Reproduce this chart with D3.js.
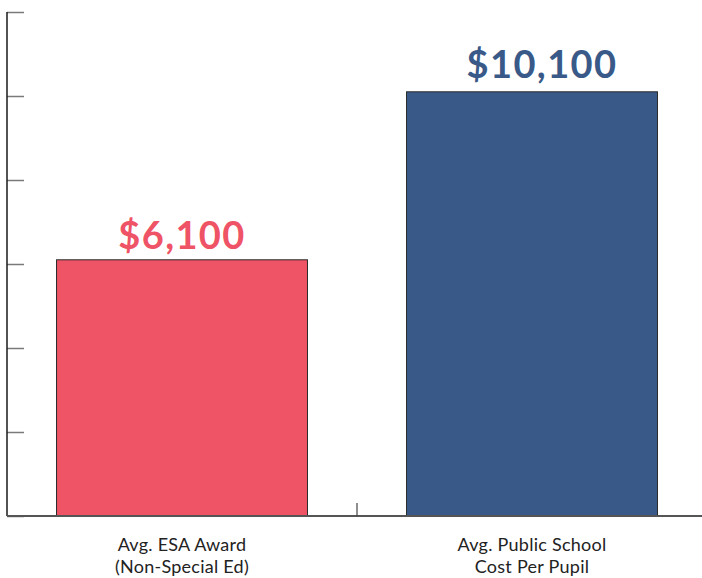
<!DOCTYPE html>
<html>
<head>
<meta charset="utf-8">
<script src="https://cdn.jsdelivr.net/npm/d3@7"></script>
<style>
  html, body { margin: 0; padding: 0; background: #fff; }
  svg { display: block; }
</style>
</head>
<body>
<div id="container"></div>
<script>
const width = 702;
const height = 578;

// chart data
const categories = ["Avg. ESA Award\n(Non-Special Ed)", "Avg. Public School\nCost Per Pupil"];
const values = [6100, 10100];
const valueLabels = ["$6,100", "$10,100"];
const barColors = ["#EF5366", "#395A88"];
const yTicks = [0, 2000, 4000, 6000, 8000, 10000, 12000];

const margin = { top: 12, right: -5, bottom: 62, left: 7 };

const svg = d3.select("#container")
  .append("svg")
  .attr("width", width)
  .attr("height", height);

const x = d3.scaleBand()
  .domain(categories)
  .range([margin.left, width - margin.right])
  .paddingInner(0.283)
  .paddingOuter(0.1415);

const y = d3.scaleLinear()
  .domain([0, 12000])
  .range([height - margin.bottom, margin.top]);

// bars
svg.selectAll("rect.bar")
  .data(values)
  .enter()
  .append("rect")
  .attr("class", "bar")
  .attr("x", (d, i) => x(categories[i]))
  .attr("y", d => y(d))
  .attr("width", x.bandwidth())
  .attr("height", d => y(0) - y(d))
  .attr("fill", (d, i) => barColors[i])
  .attr("stroke", "#2a2a2a")
  .attr("stroke-width", 1);

// y axis: ticks on the inside, no labels
const yAxis = svg.append("g")
  .attr("transform", `translate(${margin.left},0)`)
  .call(d3.axisRight(y).tickValues(yTicks).tickSize(17).tickFormat(""));
yAxis.select(".domain").remove();
yAxis.selectAll(".tick line")
  .attr("stroke", "#7a7a7a")
  .attr("stroke-width", 1.5);

svg.append("line")
  .attr("x1", margin.left).attr("x2", margin.left)
  .attr("y1", y(12000)).attr("y2", y(0))
  .attr("stroke", "#1a1a1a")
  .attr("stroke-width", 1.5);

// x axis baseline
svg.append("line")
  .attr("x1", margin.left).attr("x2", width)
  .attr("y1", y(0)).attr("y2", y(0))
  .attr("stroke", "#555")
  .attr("stroke-width", 1.8);

// divider tick between the two categories
const midX = x(categories[1]) - x.step() * x.paddingInner() / 2;
svg.append("line")
  .attr("x1", midX).attr("x2", midX)
  .attr("y1", y(0)).attr("y2", y(0) - 13)
  .attr("stroke", "#444")
  .attr("stroke-width", 1.2);

// value labels (the second one sits a little right of centre in the original)
svg.selectAll("text.value")
  .data(values)
  .enter()
  .append("text")
  .attr("class", "value")
  .attr("x", (d, i) => x(categories[i]) + x.bandwidth() / 2 + (i === 1 ? 10 : 0))
  .attr("y", (d, i) => y(d) - (i === 1 ? 14 : 11))
  .attr("text-anchor", "middle")
  .attr("fill", (d, i) => barColors[i])
  .style("font-family", "Lato, 'Noto Sans', sans-serif")
  .style("font-weight", "bold")
  .style("font-size", "38px")
  .style("letter-spacing", "1.4px")
  .text((d, i) => valueLabels[i]);

// category labels
const catLabels = svg.selectAll("text.cat")
  .data(categories)
  .enter()
  .append("text")
  .attr("class", "cat")
  .attr("x", d => x(d) + x.bandwidth() / 2)
  .attr("y", y(0) + 34.5)
  .attr("text-anchor", "middle")
  .attr("fill", "#222")
  .style("font-family", "Lato, 'Noto Sans', sans-serif")
  .style("font-size", "18px")
  .style("letter-spacing", "0.25px");

catLabels.each(function(d) {
  const lines = d.split("\n");
  d3.select(this).selectAll("tspan")
    .data(lines)
    .enter()
    .append("tspan")
    .attr("x", x(d) + x.bandwidth() / 2)
    .attr("dy", (l, i) => i === 0 ? 0 : 22)
    .text(l => l);
});
</script>
</body>
</html>
